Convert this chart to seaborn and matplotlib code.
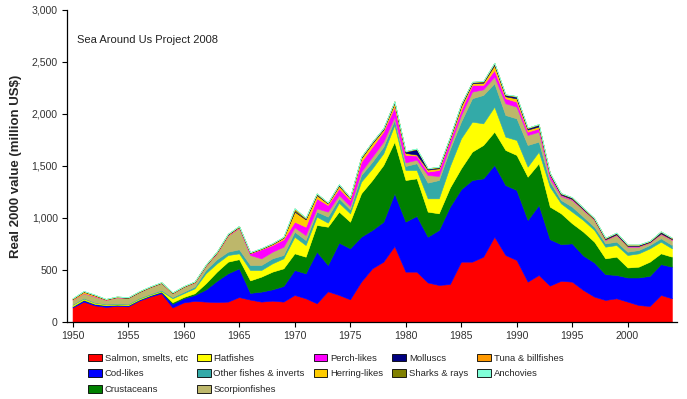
import numpy as np
import pandas as pd
import matplotlib
matplotlib.use("Agg")
import matplotlib.pyplot as plt
import matplotlib.patches as mpatches
from matplotlib.ticker import FuncFormatter
import seaborn as sns

# --- data (million US$) ---
years = list(range(1950, 2005))

salmon = [140, 195, 160, 145, 155, 150, 205, 245, 275, 140,
          188, 203, 196, 192, 196, 240, 215, 196, 205, 196,
          260, 228, 180, 295, 260, 218, 388, 516, 580, 730,
          484, 484, 380, 356, 365, 580, 580, 628, 820, 644,
          596, 388, 452, 350, 396, 388, 308, 244, 212, 228,
          196, 163, 154, 260, 228]
cod = [10, 17, 13, 15, 10, 10, 10, 10, 15, 35,
       40, 57, 116, 204, 272, 276, 65, 96, 109, 150,
       240, 240, 496, 253, 503, 490, 432, 369, 384, 507,
       481, 536, 440, 529, 744, 697, 785, 753, 690, 673,
       673, 593, 673, 446, 352, 368, 332, 328, 248, 224,
       232, 265, 290, 296, 304]
crustaceans = [2, 2, 2, 2, 2, 2, 2, 3, 3, 15,
               12, 16, 60, 88, 112, 88, 120, 144, 170, 170,
               160, 160, 257, 368, 298, 256, 417, 480, 545, 496,
               400, 361, 241, 160, 184, 201, 273, 321, 320, 337,
               337, 416, 401, 313, 297, 193, 229, 200, 152, 176,
               96, 104, 136, 104, 96]
flatfishes = [13, 11, 10, 8, 8, 8, 8, 7, 7, 38,
              36, 48, 96, 80, 64, 56, 100, 64, 80, 96,
              160, 112, 80, 39, 86, 81, 112, 112, 113, 161,
              96, 80, 128, 144, 207, 288, 288, 208, 240, 128,
              144, 97, 112, 192, 96, 112, 112, 113, 112, 112,
              120, 128, 128, 112, 80]
other = [5, 7, 5, 5, 5, 5, 7, 7, 8, 12,
         14, 16, 32, 39, 32, 39, 48, 48, 48, 32,
         48, 48, 48, 58, 42, 38, 64, 64, 63, 48,
         39, 65, 151, 176, 162, 160, 225, 273, 225, 208,
         208, 208, 96, 48, 32, 48, 32, 31, 32, 32,
         32, 32, 32, 33, 32]
scorpionfishes = [45, 44, 54, 37, 57, 55, 56, 63, 67, 36,
                  48, 38, 40, 57, 154, 206, 96, 64, 64, 80,
                  42, 48, 32, 48, 32, 32, 32, 48, 48, 32,
                  35, 34, 73, 39, 40, 64, 64, 54, 64, 113,
                  112, 96, 96, 32, 38, 64, 64, 65, 32, 64,
                  48, 32, 23, 38, 48]
perch = [0, 2, 4, 1, 1, 1, 1, 1, 1, 1,
         1, 1, 2, 2, 3, 5, 16, 87, 64, 71,
         54, 80, 96, 64, 64, 58, 96, 96, 97, 96,
         71, 40, 33, 57, 48, 48, 64, 42, 64, 48,
         48, 32, 32, 32, 10, 7, 5, 4, 4, 4,
         4, 4, 3, 5, 4]
herring = [7, 14, 9, 4, 3, 2, 1, 2, 2, 3,
           1, 6, 3, 8, 7, 5, 5, 5, 10, 15,
           97, 71, 31, 15, 25, 17, 34, 35, 20, 35,
           19, 10, 19, 17, 15, 37, 16, 21, 47, 19,
           32, 20, 18, 5, 3, 3, 3, 3, 3, 3,
           3, 3, 3, 4, 4]
molluscs = [1, 1, 1, 0, 0, 0, 1, 0, 0, 0,
            0, 0, 2, 3, 4, 4, 2, 1, 3, 4,
            8, 6, 8, 4, 8, 4, 8, 8, 8, 10,
            12, 50, 8, 8, 9, 12, 8, 10, 14, 12,
            15, 12, 16, 11, 11, 12, 10, 8, 10, 12,
            10, 10, 8, 14, 10]
sharks = [3, 3, 3, 3, 3, 3, 3, 3, 3, 3,
          3, 3, 3, 3, 3, 3, 3, 3, 3, 3,
          15, 8, 7, 3, 5, 3, 4, 4, 4, 6,
          5, 6, 4, 5, 5, 8, 5, 5, 7, 5,
          6, 5, 5, 4, 3, 3, 3, 2, 3, 3,
          2, 2, 2, 4, 2]
tuna = [2, 2, 2, 2, 2, 2, 2, 2, 2, 2,
        2, 2, 2, 2, 2, 2, 2, 2, 2, 2,
        10, 2, 2, 2, 2, 2, 2, 2, 2, 2,
        2, 2, 2, 2, 2, 2, 2, 2, 2, 2,
        2, 2, 2, 2, 2, 2, 2, 2, 2, 2,
        2, 2, 2, 2, 2]
anchovies = [0.5] * 55

labels = ["Salmon, smelts, etc", "Cod-likes", "Crustaceans", "Flatfishes",
          "Other fishes & inverts", "Scorpionfishes", "Perch-likes", "Herring-likes",
          "Molluscs", "Sharks & rays", "Tuna & billfishes", "Anchovies"]
series = [salmon, cod, crustaceans, flatfishes, other, scorpionfishes, perch,
          herring, molluscs, sharks, tuna, anchovies]
colors = ["#FF0000", "#0000FF", "#008000", "#FFFF00", "#33AAA8", "#BDB76B",
          "#FF00FF", "#FFCC00", "#000080", "#808000", "#FF9900", "#80FFD8"]

df = pd.DataFrame({
    "year": np.tile(years, len(labels)),
    "group": np.repeat(labels, len(years)),
    "value": np.concatenate(series),
})
palette = dict(zip(labels, colors))

# --- plot ---
sns.set_style("ticks")
plt.rcParams["font.family"] = ["Liberation Sans", "DejaVu Sans"]

fig = plt.figure(figsize=(6.87, 3.99), dpi=100)
ax = fig.add_axes([0.0975, 0.193, 0.8886, 0.782])

# seaborn stacks the first hue level on top, so hand it the list reversed
sns.histplot(data=df, x="year", weights="value", hue="group",
             hue_order=labels[::-1], palette=palette, multiple="stack",
             element="poly", discrete=True, alpha=1, linewidth=0.4,
             edgecolor="face", legend=False, ax=ax)

ax.set_xlim(1949.5, 2004.5)
ax.set_ylim(0, 3000)
ax.set_xticks(range(1950, 2005, 5))
ax.set_yticks(range(0, 3001, 500))
ax.yaxis.set_major_formatter(FuncFormatter(lambda v, p: f"{v:,.0f}"))
ax.tick_params(axis="both", labelsize=7.6, length=3.6, width=0.8, pad=3,
               colors="black", labelcolor="#333333")
ax.set_xlabel("")
ax.set_ylabel("Real 2000 value (million US$)", fontsize=9.5, fontweight="bold",
              labelpad=7)
for s in ["left", "bottom"]:
    ax.spines[s].set_color("black")
    ax.spines[s].set_linewidth(0.9)
sns.despine(ax=ax)

ax.text(0.016, 0.905, "Sea Around Us Project 2008", transform=ax.transAxes,
        fontsize=8, color="#222222", va="center")

handles = [mpatches.Patch(facecolor=c, edgecolor="black", linewidth=0.6)
           for c in colors]
fig.legend(handles, labels, loc="upper left", bbox_to_anchor=(0.116, 0.135),
           ncol=5, frameon=False, fontsize=6.8, handlelength=1.45,
           handleheight=0.9, handletextpad=0.3, columnspacing=0.95,
           labelspacing=0.68)

fig.savefig("out.png", dpi=100)
